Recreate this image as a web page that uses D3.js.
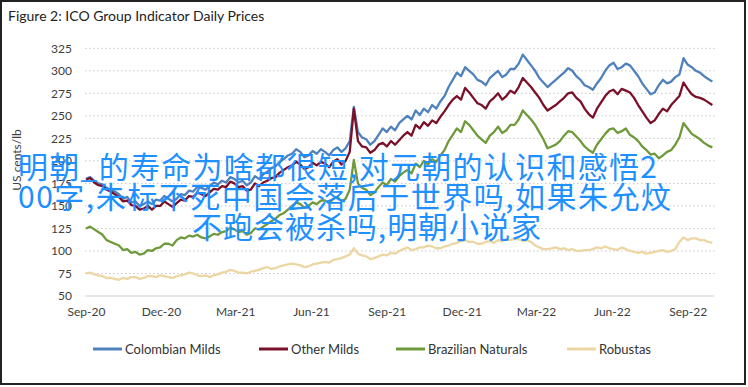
<!DOCTYPE html>
<html>
  <head>
    <meta charset="utf-8" />
    <title>ICO Group Indicator Daily Prices</title>
    <script src="https://d3js.org/d3.v7.min.js"></script>
    <style>
      body { margin: 0; background: #fff; }
      svg text { font-family: Lato, "Liberation Sans", sans-serif; }
      .line { fill: none; stroke-width: 2.3; stroke-linejoin: round; }
      .grid line { stroke: #c8c8c8; stroke-dasharray: 1.5 2.5; }
      .tick-label { font-size: 12px; fill: #404040; }
    </style>
  </head>
  <body>
    <svg width="748" height="387"></svg>
    <script>
      // sample dates (every 5 days) and the four indicator prices, US cents/lb
      const dates = [
        "2020-09-01", "2020-09-06", "2020-09-11", "2020-09-16", "2020-09-21", "2020-09-26", "2020-10-01", "2020-10-06", "2020-10-11", "2020-10-16",
        "2020-10-21", "2020-10-26", "2020-10-31", "2020-11-05", "2020-11-10", "2020-11-15", "2020-11-20", "2020-11-25", "2020-11-30", "2020-12-05",
        "2020-12-10", "2020-12-15", "2020-12-20", "2020-12-25", "2020-12-30", "2021-01-04", "2021-01-09", "2021-01-14", "2021-01-19", "2021-01-24",
        "2021-01-29", "2021-02-03", "2021-02-08", "2021-02-13", "2021-02-18", "2021-02-23", "2021-02-28", "2021-03-05", "2021-03-10", "2021-03-15",
        "2021-03-20", "2021-03-25", "2021-03-30", "2021-04-04", "2021-04-09", "2021-04-14", "2021-04-19", "2021-04-24", "2021-04-29", "2021-05-04",
        "2021-05-09", "2021-05-14", "2021-05-19", "2021-05-24", "2021-05-29", "2021-06-03", "2021-06-08", "2021-06-13", "2021-06-18", "2021-06-23",
        "2021-06-28", "2021-07-03", "2021-07-08", "2021-07-13", "2021-07-18", "2021-07-23", "2021-07-28", "2021-08-02", "2021-08-07", "2021-08-12",
        "2021-08-17", "2021-08-22", "2021-08-27", "2021-09-01", "2021-09-06", "2021-09-11", "2021-09-16", "2021-09-21", "2021-09-26", "2021-10-01",
        "2021-10-06", "2021-10-11", "2021-10-16", "2021-10-21", "2021-10-26", "2021-10-31", "2021-11-05", "2021-11-10", "2021-11-15", "2021-11-20",
        "2021-11-25", "2021-11-30", "2021-12-05", "2021-12-10", "2021-12-15", "2021-12-20", "2021-12-25", "2021-12-30", "2022-01-04", "2022-01-09",
        "2022-01-14", "2022-01-19", "2022-01-24", "2022-01-29", "2022-02-03", "2022-02-08", "2022-02-13", "2022-02-18", "2022-02-23", "2022-02-28",
        "2022-03-05", "2022-03-10", "2022-03-15", "2022-03-20", "2022-03-25", "2022-03-30", "2022-04-04", "2022-04-09", "2022-04-14", "2022-04-19",
        "2022-04-24", "2022-04-29", "2022-05-04", "2022-05-09", "2022-05-14", "2022-05-19", "2022-05-24", "2022-05-29", "2022-06-03", "2022-06-08",
        "2022-06-13", "2022-06-18", "2022-06-23", "2022-06-28", "2022-07-03", "2022-07-08", "2022-07-13", "2022-07-18", "2022-07-23", "2022-07-28",
        "2022-08-02", "2022-08-07", "2022-08-12", "2022-08-17", "2022-08-22", "2022-08-27", "2022-09-01", "2022-09-06", "2022-09-11", "2022-09-16",
        "2022-09-21", "2022-09-26", "2022-10-01"
      ];
      const colombianMilds = [
        180, 182, 178, 175, 174, 170, 168, 166, 163, 158,
        160, 154, 155, 150, 152, 155, 152, 157, 156, 161,
        158, 155, 158, 163, 162, 167, 166, 171, 170, 168,
        172, 176, 174, 178, 176, 182, 180, 176, 178, 173,
        176, 183, 180, 185, 188, 192, 194, 199, 202, 206,
        208, 213, 210, 204, 206, 211, 208, 213, 210, 206,
        212, 215, 210, 214, 222, 260, 232, 226, 224, 218,
        222, 229, 236, 232, 238, 234, 242, 246, 250, 246,
        256, 251, 258, 254, 262, 258, 266, 272, 282, 290,
        298, 294, 304, 300, 296, 290, 288, 284, 292, 296,
        300, 293, 296, 302, 302, 308, 318, 312, 306, 300,
        292, 287, 282, 286, 290, 294, 298, 303, 300, 294,
        290, 284, 282, 279, 286, 292, 300, 306, 309, 302,
        304, 308, 306, 300, 294, 286, 280, 274, 276, 284,
        290, 286, 288, 293, 296, 314, 307, 304, 300, 298,
        294, 291, 288
      ];
      const otherMilds = [
        179, 181, 176, 173, 172, 168, 166, 163, 160, 155,
        156, 151, 150, 146, 147, 150, 146, 150, 150, 155,
        152, 149, 153, 157, 156, 161, 160, 165, 163, 161,
        165, 169, 168, 172, 171, 177, 175, 171, 172, 167,
        168, 175, 172, 176, 178, 181, 182, 187, 190, 193,
        195, 199, 196, 191, 193, 198, 195, 199, 197, 193,
        199, 202, 196, 200, 210, 258, 222, 216, 215, 209,
        212, 218, 220, 216, 222, 218, 223, 228, 232, 228,
        240, 236, 243, 239, 245, 242, 249, 255, 262, 268,
        272, 268, 281, 276, 270, 264, 262, 258, 266, 270,
        275, 268, 272, 278, 275, 282, 292, 287, 282, 276,
        270, 262, 256, 259, 262, 266, 270, 275, 276, 270,
        266, 258, 252, 248, 258, 265, 272, 277, 279, 274,
        280, 278, 276, 270, 262, 255, 248, 242, 245, 252,
        258, 255, 262, 267, 272, 287, 280, 274, 271, 270,
        268, 265, 262
      ];
      const brazilianNaturals = [
        125, 127, 124, 121, 118, 112, 110, 108, 106, 101,
        102, 98, 99, 96, 97, 101, 100, 103, 104, 108,
        108, 106, 112, 115, 114, 117, 116, 118, 115, 114,
        116, 119, 118, 121, 122, 126, 124, 121, 122, 118,
        120, 125, 124, 127, 130, 133, 136, 140, 142, 146,
        150, 154, 152, 148, 150, 154, 152, 156, 156, 153,
        158, 160, 155, 158, 168, 201, 175, 170, 168, 162,
        165, 171, 176, 173, 180, 177, 183, 187, 190, 186,
        197, 193, 200, 196, 202, 199, 206, 212, 222, 229,
        236, 232, 244, 240, 234, 228, 224, 220, 228, 232,
        238, 231, 234, 240, 240, 246, 256, 251, 246, 240,
        232, 224, 214, 216, 218, 222, 228, 233, 232, 227,
        222, 216, 212, 209, 218, 224, 230, 235, 236, 231,
        233, 236, 229, 226, 222, 216, 212, 207, 208, 203,
        206, 210, 212, 218, 226, 242, 236, 230, 227, 224,
        220, 217, 215
      ];
      const robustas = [
        75, 76, 74, 73, 72, 70, 70, 69, 68, 70,
        69, 71, 71, 69, 70, 72, 72, 71, 73, 72,
        71, 70, 72, 73, 74, 76, 75, 73, 72, 73,
        71, 73, 74, 76, 77, 79, 78, 76, 76, 75,
        77, 78, 79, 81, 82, 80, 81, 83, 84, 85,
        86, 85, 84, 82, 83, 85, 86, 87, 88, 87,
        90, 91, 92, 94, 96, 103, 97, 95, 94, 91,
        92, 94, 96, 95, 98, 97, 100, 102, 104, 101,
        102, 104, 104, 106, 105, 103, 103, 105, 106, 108,
        109, 111, 112, 110, 110, 108, 108, 110, 111, 109,
        112, 111, 113, 112, 114, 113, 111, 112, 110, 106,
        104, 102, 102, 103, 104, 102, 103, 101, 102, 100,
        100, 101, 101, 102, 104, 103, 105, 103, 102, 101,
        104, 102, 100, 99, 98, 99, 97, 98, 99, 100,
        101, 99, 100, 102, 110, 115, 112, 114, 114, 112,
        112, 110, 109
      ];
      const seriesNames = ["Colombian Milds", "Other Milds", "Brazilian Naturals", "Robustas"];
      const seriesValues = [colombianMilds, otherMilds, brazilianNaturals, robustas];
      const seriesColors = ["#4f81bd", "#7a1029", "#6f9a3b", "#ecd6a3"];
      const yTicks = [50, 75, 100, 125, 150, 175, 200, 225, 250, 275, 300, 325];
      const xTicks = ["2020-09-01", "2020-12-01", "2021-03-01", "2021-06-01", "2021-09-01",
                      "2021-12-01", "2022-03-01", "2022-06-01", "2022-09-01"];
      const overlayLines = [
        "明朝_的寿命为啥都很短,对元朝的认识和感悟2",
        "00字,朱标不死中国会落后于世界吗,如果朱允炆",
        "不跑会被杀吗,明朝小说家"
      ];

      const parse = d3.timeParse("%Y-%m-%d");
      const svg = d3.select("svg");

      // outer frame
      svg.append("rect")
        .attr("x", 1).attr("y", 1)
        .attr("width", 744).attr("height", 383)
        .attr("fill", "none").attr("stroke", "#222").attr("stroke-width", 2);

      svg.append("text")
        .attr("x", 8).attr("y", 21)
        .attr("font-size", 14).attr("fill", "#222")
        .text("Figure 2: ICO Group Indicator Daily Prices");

      // scales
      const x = d3.scaleTime()
        .domain([parse("2020-09-01"), parse("2022-10-03")])
        .range([86, 714]);
      const y = d3.scaleLinear().domain([50, 325]).range([296, 48.3]);

      // dotted gridlines
      svg.append("g").attr("class", "grid")
        .selectAll("line")
        .data(yTicks.slice(1))
        .join("line")
        .attr("x1", 85).attr("x2", 715)
        .attr("y1", (d) => y(d)).attr("y2", (d) => y(d));

      // x axis line
      svg.append("line")
        .attr("x1", 85).attr("x2", 714)
        .attr("y1", y(50)).attr("y2", y(50))
        .attr("stroke", "#d0d0d0").attr("stroke-width", 1.2);

      const yAxis = d3.axisLeft(y).tickValues(yTicks).tickSize(0).tickPadding(0);
      svg.append("g")
        .attr("transform", "translate(72,0)")
        .call(yAxis)
        .call((g) => g.select(".domain").remove())
        .selectAll("text")
        .attr("class", "tick-label")
        .attr("font-family", null);

      const xAxis = d3.axisBottom(x)
        .tickValues(xTicks.map(parse))
        .tickFormat(d3.timeFormat("%b-%y"))
        .tickSize(0).tickPadding(0);
      svg.append("g")
        .attr("transform", "translate(0,307)")
        .call(xAxis)
        .call((g) => g.select(".domain").remove())
        .selectAll("text")
        .attr("class", "tick-label")
        .attr("font-family", null);

      svg.append("text")
        .attr("class", "tick-label")
        .attr("transform", "translate(21,160) rotate(-90)")
        .attr("text-anchor", "middle")
        .text("US cents/lb");

      // price lines
      const line = d3.line()
        .x((d, i) => x(parse(dates[i])))
        .y((d) => y(d));

      svg.append("g")
        .selectAll("path")
        .data(seriesValues)
        .join("path")
        .attr("class", "line")
        .attr("stroke", (d, i) => seriesColors[i])
        .attr("d", line);

      // legend
      const legendX = [93, 259, 396, 567];
      const legend = svg.append("g")
        .selectAll("g")
        .data(seriesNames)
        .join("g")
        .attr("transform", (d, i) => "translate(" + legendX[i] + ",349)");
      legend.append("line")
        .attr("x1", 0).attr("x2", 29)
        .attr("stroke", (d, i) => seriesColors[i]).attr("stroke-width", 3);
      legend.append("text")
        .attr("x", 32).attr("dy", "0.35em")
        .attr("font-size", 13).attr("fill", "#333")
        .text((d) => d);

      // blue caption text laid over the chart
      const overlayX = [18, 18, 192];
      const overlayW = [639, 653, 349];
      svg.append("g")
        .selectAll("text")
        .data(overlayLines)
        .join("text")
        .attr("x", (d, i) => overlayX[i])
        .attr("y", (d, i) => 178 + i * 30)
        .attr("textLength", (d, i) => overlayW[i])
        .attr("font-size", 30)
        .attr("fill", "#1e90ff")
        .style("font-family", '"Noto Sans CJK SC", sans-serif')
        .text((d) => d);
    </script>
  </body>
</html>
